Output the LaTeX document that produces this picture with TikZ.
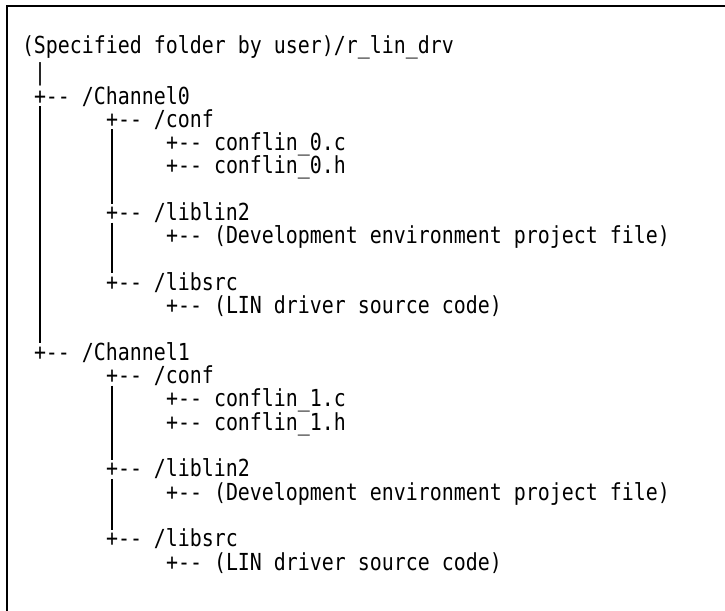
\documentclass[tikz,border=0pt]{standalone}
\usepackage{fontspec}
\usetikzlibrary{calc}
\newfontfamily\treefont[FakeStretch=0.85]{DejaVu Sans Mono}
\begin{document}
\begin{tikzpicture}[x=1pt,y=-1pt,
  t/.style={anchor=base west,inner sep=0pt,outer sep=0pt,
    font=\treefont\fontsize{23.45}{23}\selectfont},
  bar/.style={line width=1.6pt,draw=black},
  frame/.style={line width=2pt,draw=black}]
\useasboundingbox (0,0) rectangle (725,610);
\def\cw{12}\def\xo{22}\def\ls{23.3}\def\yo{104}
\newcommand\at[2]{({\xo+\cw*#1},{\yo+\ls*(#2-3)})}
% frame
\coordinate (fbl) at (7,640);
\coordinate (ftl) at (7,6);
\coordinate (ftr) at (760,6);
\draw[frame] (fbl) -- (ftl) -- (ftr);
% root
\node[t] (root) at (22,53) {(Specified folder by user)/r\_lin\_drv};
\node[t] (v2) at \at{1}{2} {|};
% channel 0
\node[t] (ch0) at \at{1}{3} {+-{}- /Channel0};
\node[t] (conf0) at \at{7}{4} {+-{}- /conf};
\node[t] (c0c) at \at{12}{5} {+-{}- conflin\_0.c};
\node[t] (c0h) at \at{12}{6} {+-{}- conflin\_0.h};
\node[t] (lib0) at \at{7}{8} {+-{}- /liblin2};
\node[t] (dev0) at \at{12}{9} {+-{}- (Development environment project file)};
\node[t] (src0) at \at{7}{11} {+-{}- /libsrc};
\node[t] (lin0) at \at{12}{12} {+-{}- (LIN driver source code)};
% channel 1
\node[t] (ch1) at \at{1}{14} {+-{}- /Channel1};
\node[t] (conf1) at \at{7}{15} {+-{}- /conf};
\node[t] (c1c) at \at{12}{16} {+-{}- conflin\_1.c};
\node[t] (c1h) at \at{12}{17} {+-{}- conflin\_1.h};
\node[t] (lib1) at \at{7}{19} {+-{}- /liblin2};
\node[t] (dev1) at \at{12}{20} {+-{}- (Development environment project file)};
\node[t] (src1) at \at{7}{22} {+-{}- /libsrc};
\node[t] (lin1) at \at{12}{23} {+-{}- (LIN driver source code)};
% tree bars
\draw[bar] ($(ch0.base west)+(6,2)$) -- ($(ch1.base west)+(6,-17)$);
\draw[bar] ($(conf0.base west)+(6,2)$) -- ($(lib0.base west)+(6,-17)$);
\draw[bar] ($(lib0.base west)+(6,2)$) -- ($(src0.base west)+(6,-17)$);
\draw[bar] ($(conf1.base west)+(6,2)$) -- ($(lib1.base west)+(6,-17)$);
\draw[bar] ($(lib1.base west)+(6,2)$) -- ($(src1.base west)+(6,-17)$);
\end{tikzpicture}
\end{document}
